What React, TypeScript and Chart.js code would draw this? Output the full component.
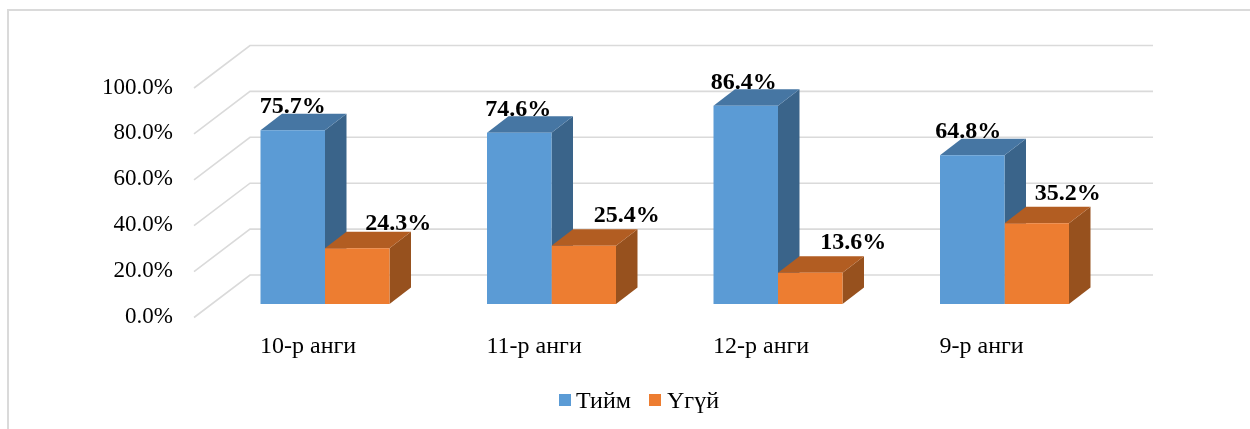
import React, { useEffect, useRef } from "react";
import { Chart, registerables } from "chart.js";

Chart.register(...registerables);

const categories = ["10-р анги", "11-р анги", "12-р анги", "9-р анги"];
const seriesNames = ["Тийм", "Үгүй"];
const yesValues = [75.7, 74.6, 86.4, 64.8];
const noValues = [24.3, 25.4, 13.6, 35.2];

const FONT = '"Liberation Serif", "Times New Roman", serif';
const BLUE = { front: "#5B9BD5", top: "#4676A3", side: "#3A648A" };
const ORANGE = { front: "#ED7D31", top: "#B25D22", side: "#97511E" };
const GRID = "#DADADA";
const DEPTH_X = 21.5;
const DEPTH_Y = 16.5;

// Hand-placed label offsets relative to the bar's top-centre, per series.
const labelNudge = [
  [[0, -23], [-1, -23], [-2, -23], [-4, -23]],
  [[41, -24], [43, -30], [43, -30], [31, -29]],
];
const legendSlots = [
  { boxX: 559, textX: 576 },
  { boxX: 649, textX: 667 },
];

const threeD = {
  id: "threeD",
  beforeDatasetsDraw(chart: any) {
    const { ctx, chartArea, scales } = chart;
    const y = scales.y;
    const backLeft = chartArea.left + 38.25;
    const backRight = chartArea.right + 35.25;
    ctx.save();
    ctx.strokeStyle = GRID;
    ctx.lineWidth = 1.6;
    y.ticks.forEach((t: any) => {
      const py = y.getPixelForValue(t.value) - 29;
      ctx.beginPath();
      ctx.moveTo(backLeft - 56, py + 42.5);
      ctx.lineTo(backLeft, py);
      ctx.lineTo(backRight, py);
      ctx.stroke();
    });
    const palettes = [BLUE, ORANGE];
    chart.data.datasets.forEach((_: any, di: number) => {
      const meta = chart.getDatasetMeta(di);
      const pal = palettes[di];
      meta.data.forEach((bar: any) => {
        const l = bar.x - bar.width / 2;
        const r = bar.x + bar.width / 2;
        const t = bar.y;
        const b = bar.base;
        ctx.fillStyle = pal.side;
        ctx.beginPath();
        ctx.moveTo(r, t);
        ctx.lineTo(r + DEPTH_X, t - DEPTH_Y);
        ctx.lineTo(r + DEPTH_X, b - DEPTH_Y);
        ctx.lineTo(r, b);
        ctx.closePath();
        ctx.fill();
        ctx.fillStyle = pal.top;
        ctx.beginPath();
        ctx.moveTo(l, t);
        ctx.lineTo(l + DEPTH_X, t - DEPTH_Y);
        ctx.lineTo(r + DEPTH_X, t - DEPTH_Y);
        ctx.lineTo(r, t);
        ctx.closePath();
        ctx.fill();
      });
    });
    ctx.restore();
  },
  afterDatasetsDraw(chart: any) {
    const { ctx } = chart;
    ctx.save();
    ctx.font = `bold 24px ${FONT}`;
    ctx.fillStyle = "#000000";
    ctx.textAlign = "center";
    ctx.textBaseline = "middle";
    chart.data.datasets.forEach((ds: any, di: number) => {
      chart.getDatasetMeta(di).data.forEach((bar: any, i: number) => {
        const [dx, dy] = labelNudge[di][i];
        ctx.fillText(`${ds.data[i].toFixed(1)}%`, bar.x + dx, bar.y + dy);
      });
    });
    // Legend: box-to-text gap is tighter than the built-in legend allows.
    ctx.font = `24px ${FONT}`;
    ctx.textAlign = "left";
    chart.data.datasets.forEach((ds: any, di: number) => {
      const slot = legendSlots[di];
      ctx.fillStyle = ds.backgroundColor;
      ctx.fillRect(slot.boxX, 394, 12, 12);
      ctx.fillStyle = "#000000";
      ctx.fillText(ds.label, slot.textX, 402);
    });
    ctx.restore();
  },
};

export default function App() {
  const ref = useRef<HTMLCanvasElement>(null);
  useEffect(() => {
    const chart = new Chart(ref.current as HTMLCanvasElement, {
      type: "bar",
      data: {
        labels: categories,
        datasets: [
          { label: seriesNames[0], data: yesValues, backgroundColor: BLUE.front, borderWidth: 0 },
          { label: seriesNames[1], data: noValues, backgroundColor: ORANGE.front, borderWidth: 0 },
        ],
      },
      options: {
        responsive: false,
        animation: false,
        layout: { padding: { left: 0, right: 132.25, top: 74.5, bottom: 65 } },
        datasets: { bar: { categoryPercentage: 0.5695, barPercentage: 1 } },
        plugins: {
          tooltip: { enabled: false },
          title: { display: false },
          legend: { display: false },
        },
        scales: {
          x: {
            grid: { display: false, drawTicks: false },
            border: { display: false },
            afterFit: (s: any) => {
              s.height = 60;
            },
            ticks: {
              color: "#000000",
              font: { family: FONT, size: 24 },
              padding: 28,
              align: "start",
              labelOffset: -65,
              maxRotation: 0,
            },
          },
          y: {
            min: 0,
            max: 100,
            afterFit: (s: any) => {
              s.width = 211.75;
            },
            grid: { display: false, drawTicks: false },
            border: { display: false },
            ticks: {
              stepSize: 20,
              color: "#000000",
              font: { family: FONT, size: 23 },
              padding: 38.75,
              labelOffset: 13,
              callback: (v: any) => `${Number(v).toFixed(1)}%`,
            },
          },
        },
      },
      plugins: [threeD],
    } as any);
    return () => chart.destroy();
  }, []);
  return (
    <div style={{ position: "absolute", left: 0, top: 0, width: 1250, height: 429, overflow: "hidden", background: "#fff" }}>
      <div style={{ position: "absolute", left: 7, top: 9, width: 1260, height: 440, border: "2px solid #DADADA" }} />
      <canvas ref={ref} width={1250} height={429} style={{ position: "absolute", left: 0, top: 0, filter: "blur(0.4px)" }} />
    </div>
  );
}
